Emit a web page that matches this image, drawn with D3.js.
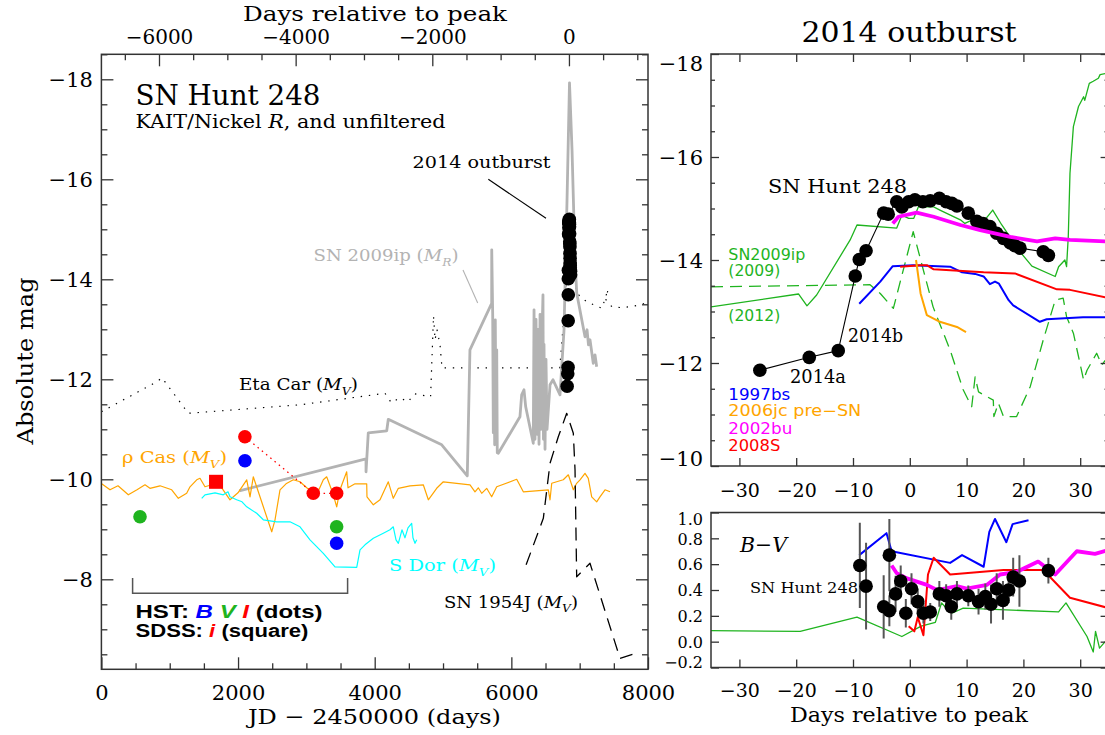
<!DOCTYPE html>
<html><head><meta charset="utf-8">
<script src="https://cdn.jsdelivr.net/npm/d3@7"></script>
<style>body{margin:0;background:#fff}svg{display:block}</style>
</head><body><svg id="c" width="1105" height="735"></svg>
<script>
// ---------------- DATA ----------------
const peakJD = 6843;
// Eta Car (M_V) [JD-2450000, mag]
const etaCar = [[0,-11.35],[809,-11.95],[887,-12.03],[1272,-11.32],[2907,-11.49],[4151,-11.72],[4244,-11.53],[4370,-11.63],[4487,-11.55],[4584,-11.71],[4818,-11.65],[4861,-13.27],[4883,-12.79],[4912,-12.99],[4956,-12.69],[4985,-12.23],[6709,-12.23],[6785,-13.53],[6844,-14.99],[6957,-13.72],[7103,-13.55],[7327,-13.42],[7415,-13.8],[7385,-13.59],[7473,-13.45],[7634,-13.43],[7810,-13.47],[8000,-13.53]];
// SN 2009ip (M_R)
const sn2009ipL = [[2018,-9.77],[3873,-10.41],[3873,-10.15],[3906,-10.93],[4176,-10.97],[4199,-11.2],[4981,-10.69],[5355,-10.07],[5394,-12.59],[5712,-13.52],[5713,-14.59],[5727,-13.29],[5736,-10.93],[5746,-12.99],[5756,-10.69],[5765,-13.19],[5775,-10.99],[5786,-12.59],[5794,-10.53],[5809,-10.52],[6126,-11.25],[6151,-11.69],[6185,-11.79],[6210,-11.45],[6321,-10.72],[6332,-13.39],[6346,-10.8],[6361,-13.2],[6376,-10.9],[6390,-13.0],[6405,-10.7],[6420,-13.3],[6434,-11.0],[6449,-12.9],[6463,-13.69],[6470,-10.8],[6478,-12.7],[6493,-10.6],[6507,-12.4],[6522,-11.0],[6566,-11.89],[6610,-11.99],[6712,-11.69],[6771,-12.99],[6815,-15.59],[6851,-17.93],[6888,-16.59],[6932,-14.39],[6957,-13.72],[7078,-12.85],[7108,-12.99],[7129,-12.69],[7151,-12.79],[7199,-12.32],[7224,-12.49],[7249,-12.25]];
// rho Cas (M_V)
const rhoCas = [[4,-9.91],[126,-9.79],[243,-9.87],[394,-9.69],[521,-9.79],[638,-9.89],[711,-9.82],[858,-9.87],[1029,-9.79],[1126,-9.62],[1248,-9.72],[1297,-9.85],[1395,-9.99],[1443,-10.02],[1516,-9.85],[1663,-9.91],[1761,-9.83],[1882,-9.59],[1999,-9.73],[2127,-9.99],[2175,-9.65],[2223,-10.05],[2277,-9.83],[2370,-9.45],[2468,-9.05],[2493,-8.95],[2541,-9.19],[2614,-9.79],[2702,-9.91],[2809,-9.99],[2907,-9.95],[3005,-9.83],[3151,-9.69],[3248,-9.99],[3297,-10.05],[3390,-9.71],[3444,-9.45],[3492,-9.79],[3590,-10.15],[3609,-9.83],[3712,-9.91],[3883,-9.91],[3887,-9.65],[3980,-9.49],[4078,-9.59],[4199,-9.95],[4272,-9.62],[4346,-9.82],[4517,-9.87],[4711,-9.89],[4785,-9.59],[4907,-9.82],[5004,-9.95],[5395,-9.89],[5468,-9.75],[5516,-9.83],[5566,-9.72],[5639,-9.82],[5712,-9.65],[5786,-9.85],[6078,-10.0],[6175,-9.75],[6541,-9.79],[6566,-9.59],[6591,-9.92],[6760,-9.99],[6834,-10.09],[6883,-9.89],[6907,-9.79],[6956,-9.92],[7005,-9.99],[7078,-10.12],[7126,-10.02],[7176,-9.65],[7249,-9.55],[7297,-9.65],[7371,-9.79],[7444,-9.75]];
// S Dor (M_V)
const sDor = [[1468,-9.62],[1516,-9.69],[1663,-9.73],[1784,-9.69],[1853,-9.75],[1882,-9.65],[1980,-9.59],[2058,-9.55],[2127,-9.45],[2273,-9.32],[2370,-9.19],[2468,-9.17],[2566,-9.15],[2760,-9.15],[2907,-9.05],[3053,-8.79],[3248,-8.52],[3419,-8.25],[3737,-8.24],[3785,-8.59],[3858,-8.69],[3980,-8.82],[4126,-8.92],[4224,-8.99],[4272,-9.05],[4312,-8.79],[4346,-8.72],[4399,-8.99],[4443,-8.83],[4487,-9.03],[4541,-9.12],[4560,-8.83],[4590,-8.72],[4615,-8.79]];
// SN 1954J (M_V)
const sn1954J = [[6216,-8.29],[6468,-9.22],[6566,-10.32],[6687,-10.85],[6810,-11.32],[6907,-10.92],[6932,-10.19],[6956,-8.05],[7151,-8.32],[7590,-6.42],[7883,-6.55]];
// HST / SDSS progenitor photometry
const hstB = [[2101,-10.37],[3443,-8.72]];
const hstV = [[565,-9.25],[3443,-9.05]];
const hstI = [[2100,-10.85],[3101,-9.72],[3443,-9.72]];
const sdssI = [[1678,-9.95]];
// SN Hunt 248 2014 outburst (days from peak, mag)
const huntT = [-26.4,-17.7,-12.6,-9.6,-8.9,-7.7,-4.6,-3.8,-2.3,-1.4,-0.2,0.9,2.3,3.6,5.2,6.4,7.4,8.3,10.3,11.8,12.9,14.1,15.3,16.5,17.7,18.5,19.4,23.5,24.4];
const huntM = [-11.86,-12.11,-12.24,-13.69,-14.01,-14.18,-14.91,-14.89,-15.13,-15.03,-15.13,-15.17,-15.13,-15.15,-15.2,-15.13,-15.1,-15.05,-14.91,-14.75,-14.71,-14.65,-14.52,-14.42,-14.33,-14.28,-14.23,-14.16,-14.09];
const huntExtraT = [-11.0];
const huntExtraM = [-13.17];
// comparison light curves (days, mag)
const c09ip2009 = [[-35,-13.09],[-19.6,-13.34],[-18.1,-13.11],[-16.4,-13.32],[-10.5,-14.39],[-9.3,-14.68],[-2.3,-14.62],[-1.4,-14.87],[-0.2,-14.81],[0.7,-14.81],[1.5,-15.03],[4.2,-15.03],[5.3,-14.97],[8.9,-14.78],[9.7,-14.71],[11.2,-14.79],[13.0,-14.75],[14.6,-14.97],[16.2,-14.68],[19.4,-14.16],[21.5,-13.88],[25.6,-13.68],[26.2,-13.87],[27.3,-14.0],[27.6,-13.87],[27.9,-14.45],[28.2,-15.68],[28.8,-16.59],[29.7,-16.98],[30.6,-17.17],[30.8,-17.1],[31.6,-17.43],[32.3,-17.47],[33.2,-17.53],[33.5,-17.6],[34.4,-17.62]];
const c09ip2012 = [[-35,-13.48],[-7.0,-13.52],[-5.2,-13.35],[-2.9,-13.06],[0.6,-14.55],[4.1,-13.09],[7.1,-12.25],[9.4,-11.48],[10.9,-11.15],[11.5,-11.73],[12.1,-11.44],[13.0,-11.38],[14.7,-11.28],[14.8,-10.96],[15.6,-11.22],[16.5,-10.96],[18.8,-10.96],[21.2,-11.54],[23.5,-12.45],[25.6,-13.22],[27.0,-13.26],[27.6,-12.9],[28.8,-12.58],[30.6,-11.67],[31.2,-11.86],[32.9,-12.19],[33.8,-11.96],[34.4,-12.05]];
const c1997bs = [[-8.9,-13.15],[-5.2,-13.58],[-3.0,-13.88],[0.6,-13.9],[7.1,-13.87],[9.2,-13.76],[11.5,-13.73],[13.0,-13.68],[14.1,-13.53],[15.0,-13.58],[15.7,-13.54],[17.4,-13.22],[18.2,-13.12],[22.9,-12.8],[24.1,-12.85],[30.5,-12.89],[35,-12.89]];
const c2008S = [[-1.7,-13.87],[1.8,-13.9],[3.0,-13.9],[4.2,-13.82],[13.0,-13.76],[18.5,-13.74],[25.9,-13.43],[28.2,-13.42],[35,-13.26]];
const c2006jc = [[1.1,-14.0],[1.9,-13.35],[3.0,-12.93],[5.3,-12.8],[8.3,-12.7],[9.9,-12.6]];
const c2002bu = [[-3.0,-14.71],[-2.0,-14.84],[1.2,-14.92],[4.2,-14.84],[8.9,-14.68],[12.4,-14.58],[17.7,-14.45],[22.4,-14.36],[25.6,-14.42],[28.2,-14.39],[35,-14.36]];
// B-V colour
const bvT = [-8.8,-7.7,-4.6,-3.6,-3.6,-2.5,-1.6,-0.7,0.3,1.4,2.4,3.6,5.2,6.4,7.3,8.3,10.3,12.1,13.3,14.3,15.3,16.4,17.4,18.2,19.3,24.4];
const bvV = [0.59,0.43,0.27,0.24,0.67,0.37,0.47,0.22,0.41,0.31,0.22,0.23,0.37,0.355,0.27,0.37,0.355,0.31,0.35,0.29,0.41,0.32,0.40,0.50,0.47,0.55];
const bvE = [0.33,0.335,0.245,0.12,0.28,0.14,0.12,0.11,0.12,0.10,0.08,0.07,0.10,0.09,0.10,0.10,0.08,0.10,0.10,0.15,0.12,0.15,0.10,0.15,0.20,0.10];
const bv1997bs = [[-8.9,0.67],[-4.1,0.84],[-3.2,0.70],[7.1,0.61],[9.2,0.67],[13.0,0.58],[14.0,0.85],[15.0,0.95],[17.0,0.77],[18.1,0.91],[20.9,0.94]];
const bv2008S = [[-0.2,0.12],[0.8,0.08],[1.4,0.19],[2.4,0.05],[3.2,0.52],[4.2,0.65],[7.1,0.52],[16.5,0.555],[23.5,0.555],[28.2,0.34],[35,0.26]];
const bv2002bu = [[-3.2,0.59],[-2.3,0.53],[-0.5,0.49],[3.0,0.44],[4.8,0.40],[8.3,0.43],[10.0,0.41],[13.6,0.44],[15.9,0.52],[18.8,0.54],[22.6,0.62],[25.6,0.52],[29.4,0.70],[32.6,0.68],[35,0.71]];
const bv2009ip = [[-35,0.085],[-19.3,0.08],[-9.3,0.19],[-1.4,0.04],[2.0,0.12],[4.5,0.15],[5.6,0.30],[6.2,0.27],[7.4,0.22],[9.4,0.26],[26.2,0.23],[27.5,0.30],[31.2,0.04],[32.3,-0.08],[32.7,0.08],[33.4,-0.05],[34.4,0.0],[35,0.01]];
// tick values
const leftYMajor = [-18,-16,-14,-12,-10,-8];
const leftXMajor = [0,2000,4000,6000,8000];
const topXMajor = [-6000,-4000,-2000,0];
const rightYMajor = [-18,-16,-14,-12,-10];
const rightXMajor = [-30,-20,-10,0,10,20,30];
const bvYMajor = [-0.2,0.0,0.2,0.4,0.6,0.8,1.0];

// ---------------- COLOURS ----------------
const GREEN = "#1fb41f", ORANGE = "#ffa500", CYAN = "#00ffff", GRAY = "#b3b3b3";
const SERIF = "'DejaVu Serif', serif", SANS = "'DejaVu Sans', sans-serif";

// ---------------- SCALES ----------------
const svg = d3.select("#c");
const xL = d3.scaleLinear().domain([0,8000]).range([101.4,648]);
const yL = d3.scaleLinear().domain([-18.5,-6.2]).range([54.3,669.3]);
const xT = d3.scaleLinear().domain([-peakJD, 8000-peakJD]).range([101.4,648]);
const xR = d3.scaleLinear().domain([-35,35]).range([711,1108.6]);
const yR = d3.scaleLinear().domain([-18,-10]).range([54,466]);
const yB = d3.scaleLinear().domain([-0.2,1.0]).range([667.5,512.5]);

const defs = svg.append("defs");
function clip(id, x, y, w, h){ defs.append("clipPath").attr("id",id).append("rect").attr("x",x).attr("y",y).attr("width",w).attr("height",h); }
clip("cl", 101.4, 54.3, 546.6, 615);
clip("cr", 711, 54, 397.6, 412);
clip("cb", 711, 512.5, 397.6, 155);

const gL = svg.append("g").attr("clip-path","url(#cl)");
const gR = svg.append("g").attr("clip-path","url(#cr)");
const gB = svg.append("g").attr("clip-path","url(#cb)");

function path(g, data, xs, ys, stroke, w, dash){
  const line = d3.line().x(d=>xs(d[0])).y(d=>ys(d[1]));
  const p = g.append("path").datum(data).attr("d",line).attr("fill","none")
    .attr("stroke",stroke).attr("stroke-width",w).attr("stroke-linejoin","round");
  if(dash) p.attr("stroke-dasharray",dash);
  return p;
}
function dots(g, data, xs, ys, fill, r){
  g.selectAll(null).data(data).enter().append("circle")
    .attr("cx",d=>xs(d[0])).attr("cy",d=>ys(d[1])).attr("r",r).attr("fill",fill);
}

// ---------------- LEFT PANEL ----------------
path(gL, etaCar, xL, yL, "#000", 1.2, "1.4,6.8");
path(gL, sn2009ipL, xL, yL, GRAY, 2.8);
path(gL, rhoCas, xL, yL, ORANGE, 1.2);
path(gL, sDor, xL, yL, CYAN, 1.2);
path(gL, sn1954J, xL, yL, "#000", 1.3, "13,8");
path(gL, hstI, xL, yL, "#ff0000", 1.3, "1.5,4");
dots(gL, hstB, xL, yL, "#0000ff", 6.8);
dots(gL, hstV, xL, yL, GREEN, 6.8);
dots(gL, hstI, xL, yL, "#ff0000", 6.8);
gL.selectAll(null).data(sdssI).enter().append("rect")
  .attr("x",d=>xL(d[0])-7).attr("y",d=>yL(d[1])-7).attr("width",14).attr("height",14).attr("fill","#ff0000");
const huntL = huntT.map((t,i)=>[peakJD+t, huntM[i]]).concat(huntExtraT.map((t,i)=>[peakJD+t, huntExtraM[i]]));
dots(gL, huntL, xL, yL, "#000", 6.8);

// ---------------- RIGHT UPPER PANEL ----------------
path(gR, c09ip2009, xR, yR, GREEN, 1.3);
path(gR, c09ip2012, xR, yR, GREEN, 1.3, "12,7");
path(gR, c1997bs, xR, yR, "#0000ff", 2);
path(gR, c2008S, xR, yR, "#ff0000", 2);
path(gR, c2006jc, xR, yR, ORANGE, 2);
const huntR = huntT.map((t,i)=>[t, huntM[i]]);
path(gR, huntR, xR, yR, "#000", 1.1);
dots(gR, huntR, xR, yR, "#000", 6.8);
path(gR, c2002bu, xR, yR, "#ff00ff", 3.8);

// ---------------- RIGHT LOWER PANEL ----------------
path(gB, bv2009ip, xR, yB, GREEN, 1.3);
path(gB, bv1997bs, xR, yB, "#0000ff", 2);
path(gB, bv2008S, xR, yB, "#ff0000", 2);
path(gB, bv2002bu, xR, yB, "#ff00ff", 3.8);
gB.selectAll(null).data(bvT).enter().append("line")
  .attr("x1",d=>xR(d)).attr("x2",d=>xR(d))
  .attr("y1",(d,i)=>yB(bvV[i]-bvE[i])).attr("y2",(d,i)=>yB(bvV[i]+bvE[i]))
  .attr("stroke","#555").attr("stroke-width",2);
dots(gB, bvT.map((t,i)=>[t,bvV[i]]), xR, yB, "#000", 6.8);

// ---------------- AXES ----------------
function mkAxis(gen, tx, ty, values, len, fmt, size){
  const g = svg.append("g").attr("transform",`translate(${tx},${ty})`)
    .call(gen.tickValues(values).tickSize(-len).tickFormat(fmt || (()=>"")));
  g.select(".domain").remove();
  g.selectAll("line").attr("stroke","#333").attr("stroke-width",1.3);
  g.attr("font-family",SERIF).attr("font-size",size||20);
  g.selectAll("text").attr("fill","#000");
  return g;
}
const range = (a,b,s)=>d3.range(a,b+s/2,s);
const fint = d3.format("d"), f1 = d3.format(".1f");
// left panel
let ax;
ax = mkAxis(d3.axisBottom(xL), 0, 669.3, leftXMajor, 12, fint, 21);
ax.selectAll("text").attr("y",31).attr("dy",0);
mkAxis(d3.axisBottom(xL), 0, 669.3, range(500,7500,500).filter(v=>v%2000), 6);
ax = mkAxis(d3.axisTop(xT), 0, 54.3, topXMajor, 12, fint, 20);
ax.selectAll("text").attr("y",-10.5).attr("dy",0);
mkAxis(d3.axisTop(xT), 0, 54.3, range(-6500,1000,500).filter(v=>v%2000), 6);
ax = mkAxis(d3.axisLeft(yL), 101.4, 0, leftYMajor, 12, fint, 21);
ax.selectAll("text").attr("x",-8.5).attr("dy","0.36em");
mkAxis(d3.axisLeft(yL), 101.4, 0, range(-18.5,-6.5,0.5).filter(v=>v%2), 6);
mkAxis(d3.axisRight(yL), 648, 0, leftYMajor, 12);
mkAxis(d3.axisRight(yL), 648, 0, range(-18.5,-6.5,0.5).filter(v=>v%2), 6);
svg.append("rect").attr("x",101.4).attr("y",54.3).attr("width",546.6).attr("height",615)
  .attr("fill","none").attr("stroke","#333").attr("stroke-width",1.5);
// right upper
ax = mkAxis(d3.axisBottom(xR), 0, 466, rightXMajor, 8, fint, 19);
ax.selectAll("text").attr("y",31).attr("dy",0);
mkAxis(d3.axisTop(xR), 0, 54, rightXMajor, 8);
ax = mkAxis(d3.axisLeft(yR), 711, 0, rightYMajor, 8, fint, 21);
ax.selectAll("text").attr("x",-8).attr("dy","0.36em")
  .attr("transform",d=>d===-18?"translate(0,9)":(d===-10?"translate(0,-8)":null));
mkAxis(d3.axisLeft(yR), 711, 0, range(-17.5,-10.5,0.5).filter(v=>v%2), 4);
mkAxis(d3.axisRight(yR), 1108.6, 0, rightYMajor, 8);
mkAxis(d3.axisRight(yR), 1108.6, 0, range(-17.5,-10.5,0.5).filter(v=>v%2), 4);
svg.append("rect").attr("x",711).attr("y",54).attr("width",397.6).attr("height",412)
  .attr("fill","none").attr("stroke","#333").attr("stroke-width",1.5);
// right lower
ax = mkAxis(d3.axisBottom(xR), 0, 667.5, rightXMajor, 8, fint, 19);
ax.selectAll("text").attr("y",29).attr("dy",0);
ax = mkAxis(d3.axisLeft(yB), 711, 0, bvYMajor, 8, f1, 16);
ax.selectAll("text").attr("x",-8).attr("dy","0.36em")
  .attr("transform",d=>Math.abs(d-1)<1e-6?"translate(0,6.5)":(Math.abs(d+0.2)<1e-6?"translate(0,-5.5)":null));
mkAxis(d3.axisRight(yB), 1108.6, 0, bvYMajor, 8);
svg.append("rect").attr("x",711).attr("y",512.5).attr("width",397.6).attr("height",155)
  .attr("fill","none").attr("stroke","#333").attr("stroke-width",1.5);

// ---------------- TEXT ----------------
function txt(x, y, s, o={}){
  const t = svg.append("text").attr("x",x).attr("y",y).text(s)
    .attr("font-family",o.font||SERIF).attr("font-size",o.size||16)
    .attr("fill",o.fill||"#000").attr("text-anchor",o.anchor||"start");
  if(o.style) t.attr("font-style",o.style);
  if(o.weight) t.attr("font-weight",o.weight);
  if(o.len) t.attr("textLength",o.len).attr("lengthAdjust","spacingAndGlyphs");
  if(o.rot) t.attr("transform",`rotate(${o.rot},${x},${y})`);
  return t;
}
function mv(x, y, pre, sub, o){
  const t = svg.append("text").attr("x",x).attr("y",y)
    .attr("font-family",SERIF).attr("font-size",o.size).attr("fill",o.fill||"#000");
  if(o.len) t.attr("textLength",o.len).attr("lengthAdjust","spacingAndGlyphs");
  t.append("tspan").text(pre+"(");
  t.append("tspan").attr("font-style","italic").text("M");
  t.append("tspan").attr("font-style","italic").attr("font-size",o.size*0.68).attr("dy",o.size*0.28).text(sub);
  t.append("tspan").attr("dy",-o.size*0.28).text(")");
  return t;
}
// left panel labels
txt(375, 20.5, "Days relative to peak", {size:21, anchor:"middle", len:264});
txt(374.5, 724, "JD − 2450000 (days)", {size:21, anchor:"middle", len:253});
txt(33, 361, "Absolute mag", {size:22, anchor:"middle", len:167, rot:-90});
txt(135.5, 105, "SN Hunt 248", {size:27, len:185});
{
  const t = svg.append("text").attr("x",135.5).attr("y",128).attr("font-family",SERIF).attr("font-size",18)
    .attr("textLength",310).attr("lengthAdjust","spacingAndGlyphs");
  t.append("tspan").text("KAIT/Nickel ");
  t.append("tspan").attr("font-style","italic").text("R");
  t.append("tspan").text(", and unfiltered");
}
txt(412.5, 168, "2014 outburst", {size:17, len:138});
svg.append("line").attr("x1",488.3).attr("y1",179.3).attr("x2",546).attr("y2",218.3).attr("stroke","#000").attr("stroke-width",1.1);
mv(313.5, 261, "SN 2009ip ", "R", {size:17, fill:GRAY, len:145});
svg.append("line").attr("x1",463).attr("y1",270).attr("x2",477.7).attr("y2",303).attr("stroke",GRAY).attr("stroke-width",1.1);
mv(239, 390, "Eta Car ", "V", {size:17, len:119});
mv(122, 463, "ρ Cas ", "V", {size:17, fill:ORANGE, len:105});
mv(389, 571, "S Dor ", "V", {size:17, fill:CYAN, len:107});
mv(444, 608, "SN 1954J ", "V", {size:16, len:134});
svg.append("path").attr("d","M132.6,578V593.3H347.6V578").attr("fill","none").attr("stroke","#555").attr("stroke-width",1.5);
{
  const t = svg.append("text").attr("x",135.5).attr("y",618).attr("font-family","'Liberation Sans', sans-serif")
    .attr("font-size",18).attr("font-weight","bold").attr("textLength",187).attr("lengthAdjust","spacingAndGlyphs");
  t.append("tspan").text("HST:  ");
  t.append("tspan").attr("fill","#0000ff").attr("font-style","italic").text("B");
  t.append("tspan").text(" ");
  t.append("tspan").attr("fill",GREEN).attr("font-style","italic").text("V");
  t.append("tspan").text(" ");
  t.append("tspan").attr("fill","#ff0000").attr("font-style","italic").text("I");
  t.append("tspan").text("  (dots)");
  const u = svg.append("text").attr("x",135.5).attr("y",637).attr("font-family","'Liberation Sans', sans-serif")
    .attr("font-size",18).attr("font-weight","bold").attr("textLength",173).attr("lengthAdjust","spacingAndGlyphs");
  u.append("tspan").text("SDSS: ");
  u.append("tspan").attr("fill","#ff0000").attr("font-style","italic").text("i");
  u.append("tspan").text(" (square)");
}
// right panel labels
txt(909, 41.5, "2014 outburst", {size:27, anchor:"middle", len:215});
txt(909, 721.7, "Days relative to peak", {size:20, anchor:"middle", len:238});
txt(768, 193, "SN Hunt 248", {size:19, len:139});
txt(790, 383, "2014a", {size:18, len:56});
txt(848, 342, "2014b", {size:18, len:55});
txt(728.3, 259.5, "SN2009ip", {size:15, font:SANS, fill:GREEN, len:77});
txt(728.3, 276, "(2009)", {size:15, font:SANS, fill:GREEN, len:52});
txt(728.3, 321, "(2012)", {size:15, font:SANS, fill:GREEN, len:52});
txt(728.3, 400, "1997bs", {size:15, font:SANS, fill:"#0000ff", len:62});
txt(728.3, 416, "2006jc pre−SN", {size:15, font:SANS, fill:ORANGE, len:133});
txt(728.3, 433.5, "2002bu", {size:15, font:SANS, fill:"#ff00ff", len:64});
txt(728.3, 450.5, "2008S", {size:15, font:SANS, fill:"#ff0000", len:52});
txt(740, 551.7, "B−V", {size:21, style:"italic", len:47});
txt(750, 593, "SN Hunt 248", {size:15, len:108});
</script></body></html>
